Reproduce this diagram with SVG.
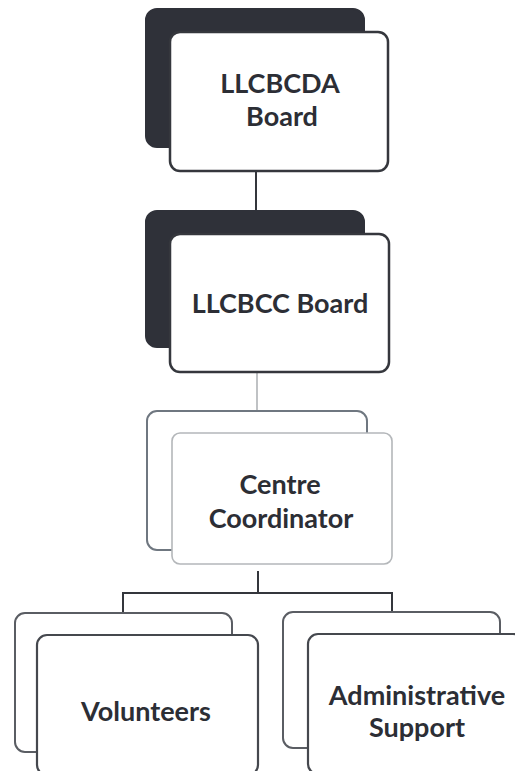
<svg xmlns="http://www.w3.org/2000/svg" width="515" height="771" viewBox="0 0 515 771">
<style>
.bg{fill:#ffffff}
.dark{fill:#2f3139;stroke:#2f3139;stroke-width:2}
.front{fill:#ffffff;stroke:#35373d;stroke-width:2.5}
.lback{fill:#ffffff;stroke:#6f7780;stroke-width:2}
.lfront{fill:#ffffff;stroke:#b4b7ba;stroke-width:1.6}
.gback{fill:#ffffff;stroke:#5a5d63;stroke-width:2}
.gfront{fill:#ffffff;stroke:#45484e;stroke-width:2.2}
.t{font-family:Lato,"Open Sans","Liberation Sans",sans-serif;font-weight:700;font-size:27px;fill:#2c2e35;text-anchor:middle}
.c{fill:none;stroke:#34363c;stroke-width:2}
.cl{fill:none;stroke:#b0b3b6;stroke-width:1.6}
</style>
<rect class="bg" x="0" y="0" width="515" height="771"/>
<g id="connectors">
<line class="c" x1="256" y1="171" x2="256" y2="211"/>
<line class="cl" x1="257" y1="373" x2="257" y2="411"/>
<line class="c" x1="258" y1="571" x2="258" y2="593"/>
<polyline class="c" points="123,613 123,593 392,593 392,612"/>
</g>
<g id="node-llcbcda">
<rect class="dark" x="146" y="9" width="218" height="138" rx="11"/>
<rect class="front" x="170" y="32" width="218" height="139" rx="10"/>
<text class="t" x="280" y="93">LLCBCDA</text>
<text class="t" x="282" y="126">Board</text>
</g>
<g id="node-llcbcc">
<rect class="dark" x="146" y="211" width="218" height="136" rx="11"/>
<rect class="front" x="170" y="234" width="219" height="138" rx="10"/>
<text class="t" x="280" y="313">LLCBCC Board</text>
</g>
<g id="node-coordinator">
<rect class="lback" x="147" y="411" width="220" height="139" rx="10"/>
<rect class="lfront" x="172" y="433" width="220" height="131" rx="8"/>
<text class="t" x="280" y="494">Centre</text>
<text class="t" x="281" y="528">Coordinator</text>
</g>
<g id="node-volunteers">
<rect class="gback" x="15" y="613" width="217" height="139" rx="10"/>
<rect class="gfront" x="37" y="635" width="221" height="140" rx="10"/>
<text class="t" x="146" y="721">Volunteers</text>
</g>
<g id="node-admin">
<rect class="gback" x="283" y="612" width="217" height="136" rx="10"/>
<rect class="gfront" x="308" y="634" width="215" height="140" rx="10"/>
<text class="t" x="417" y="705">Administrative</text>
<text class="t" x="417" y="737">Support</text>
</g>
</svg>
